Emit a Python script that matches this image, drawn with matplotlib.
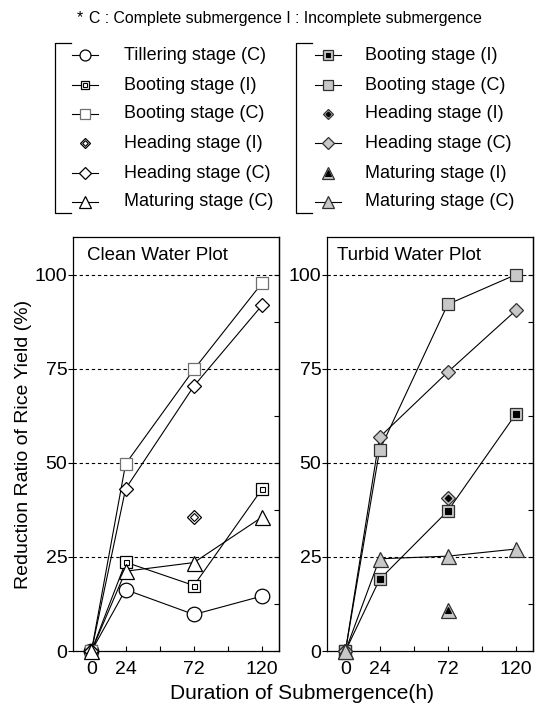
import matplotlib
matplotlib.use('Agg')
import matplotlib.pyplot as plt
from matplotlib.ticker import FixedLocator

plt.rcParams['font.family'] = ['Liberation Sans', 'DejaVu Sans']

# submergence duration (h)
hours = [0, 24, 72, 120]
hours_partial = [0, 72]

# Clean water plot, reduction ratio of rice yield (%)
clean_tillering_c = [0, 16.3, 9.7, 14.6]
clean_booting_i = [0, 23.6, 17.4, 43.1]
clean_booting_c = [0, 49.7, 74.8, 97.8]
clean_heading_i = [0, 35.6]
clean_heading_c = [0, 43.1, 70.4, 91.9]
clean_maturing_c = [0, 21.2, 23.5, 35.6]

# Turbid water plot
turbid_booting_i = [0, 19.0, 37.2, 63.0]
turbid_booting_c = [0, 53.3, 92.1, 100.0]
turbid_heading_i = [0, 40.7]
turbid_heading_c = [0, 56.8, 74.1, 90.5]
turbid_maturing_i = [0, 10.8]
turbid_maturing_c = [0, 24.5, 25.2, 27.1]

legend_left = ['Tillering stage (C)', 'Booting stage (I)', 'Booting stage (C)',
               'Heading stage (I)', 'Heading stage (C)', 'Maturing stage (C)']
legend_right = ['Booting stage (I)', 'Booting stage (C)', 'Heading stage (I)',
                'Heading stage (C)', 'Maturing stage (I)', 'Maturing stage (C)']

GRAY = '#c8c8c8'
EDGE = '#303030'

# marker styles: (marker, size, face, edge, inner marker or None, has line)
left_styles = [
    ('o', 10.5, 'white', 'black', None, True),
    ('s', 8.5, 'white', 'black', ('s', 3.6, 'white', 'black'), True),
    ('s', 8.8, 'white', '#707070', None, True),
    ('D', 7.4, 'white', 'black', ('D', 3.8, 'white', 'black'), False),
    ('D', 7.6, 'white', 'black', None, True),
    ('^', 10.8, 'white', 'black', None, True),
]
right_styles = [
    ('s', 8.8, GRAY, EDGE, ('s', 4.2, 'black', 'black'), True),
    ('s', 8.8, GRAY, EDGE, None, True),
    ('D', 7.4, GRAY, EDGE, ('D', 3.4, 'black', 'black'), False),
    ('D', 7.6, GRAY, EDGE, None, True),
    ('^', 10.8, GRAY, EDGE, ('^', 5.0, 'black', 'black'), False),
    ('^', 10.8, GRAY, EDGE, None, True),
]


def draw_series(ax, x, y, style, scale=1.0, zo=3):
    marker, ms, face, edge, inner, line = style
    if line:
        ax.plot(x, y, color='black', lw=0.8, zorder=2, clip_on=False)
    ax.plot(x, y, ls='none', marker=marker, ms=ms * scale, mfc=face, mec=edge,
            mew=0.9, zorder=zo, clip_on=False)
    if inner is not None:
        m2, s2, f2, e2 = inner
        ax.plot(x, y, ls='none', marker=m2, ms=s2 * scale, mfc=f2, mec=e2,
                mew=0.8, zorder=zo + 0.1, clip_on=False)


def style_axes(ax, title, title_x):
    ax.set_xlim(-13, 132)
    ax.set_ylim(0, 110)
    for v in [25, 50, 75, 100]:
        ax.axhline(v, color='black', lw=0.8, ls=(0, (3, 2.5)), zorder=1)
    ax.xaxis.set_major_locator(FixedLocator([0, 24, 72, 120]))
    ax.xaxis.set_minor_locator(FixedLocator([48, 96]))
    ax.yaxis.set_major_locator(FixedLocator([0, 25, 50, 75, 100]))
    ax.tick_params(axis='x', which='both', direction='in', length=3.5,
                   width=0.8, labelsize=14, pad=7)
    ax.tick_params(axis='y', which='major', direction='out', length=3.5,
                   width=0.8, labelsize=14, pad=0.5)
    sec = ax.secondary_yaxis('right')
    sec.yaxis.set_major_locator(FixedLocator([0, 25, 50, 75, 100]))
    sec.yaxis.set_minor_locator(FixedLocator([12.5, 37.5, 62.5, 87.5]))
    sec.tick_params(which='both', direction='in', length=3.5, width=0.8,
                    labelright=False)
    sec.spines['right'].set_linewidth(0.9)
    for s in ax.spines.values():
        s.set_linewidth(0.9)
    ax.text(title_x, 0.955, title, transform=ax.transAxes, fontsize=13.5,
            ha='left', va='center')


fig = plt.figure(figsize=(5.5, 7.06), dpi=100)
ax1 = fig.add_axes([0.1327, 0.0779, 0.375, 0.5864])
ax2 = fig.add_axes([0.5945, 0.0779, 0.3745, 0.5864])

style_axes(ax1, 'Clean Water Plot', 0.07)
style_axes(ax2, 'Turbid Water Plot', 0.05)

clean_data = [(hours, clean_tillering_c), (hours, clean_booting_i),
              (hours, clean_booting_c), (hours_partial, clean_heading_i),
              (hours, clean_heading_c), (hours, clean_maturing_c)]
for i in [2, 4, 0, 5, 1, 3]:
    x, y = clean_data[i]
    draw_series(ax1, x, y, left_styles[i], zo=3 + i * 0.2)

turbid_data = [(hours, turbid_booting_i), (hours, turbid_booting_c),
               (hours_partial, turbid_heading_i), (hours, turbid_heading_c),
               (hours_partial, turbid_maturing_i), (hours, turbid_maturing_c)]
for i in [1, 3, 0, 2, 5, 4]:
    x, y = turbid_data[i]
    draw_series(ax2, x, y, right_styles[i], zo=3 + i * 0.2)

fig.text(0.55, 0.004, 'Duration of Submergence(h)', fontsize=15,
         ha='center', va='bottom')
fig.text(0.042, 0.371, 'Reduction Ratio of Rice Yield (%)', fontsize=14,
         rotation=90, ha='center', va='center')

# legend drawn in pixel coordinates
lax = fig.add_axes([0, 0, 1, 1], zorder=-1)
lax.set_xlim(0, 550)
lax.set_ylim(706, 0)
lax.axis('off')

lax.text(77, 18, '*', fontsize=11.5, ha='left', va='center')
lax.text(89, 18, 'C : Complete submergence I : Incomplete submergence',
         fontsize=11.4, ha='left', va='center')

rows = [55, 85, 114, 143, 173, 202]
for bx, mx, tx, labels, styles in [(55, 85, 124, legend_left, left_styles),
                                   (296, 328, 365, legend_right, right_styles)]:
    lax.plot([bx + 16, bx, bx, bx + 16], [43, 43, 213, 213], color='black', lw=0.9)
    for ry, lab, st in zip(rows, labels, styles):
        if st[5]:
            lax.plot([mx - 13, mx + 13], [ry, ry], color='black', lw=0.8)
        draw_series(lax, [mx], [ry], st[:5] + (False,), scale=0.75)
        lax.text(tx, ry, lab, fontsize=13, ha='left', va='center')

fig.savefig('out.png', dpi=100)
